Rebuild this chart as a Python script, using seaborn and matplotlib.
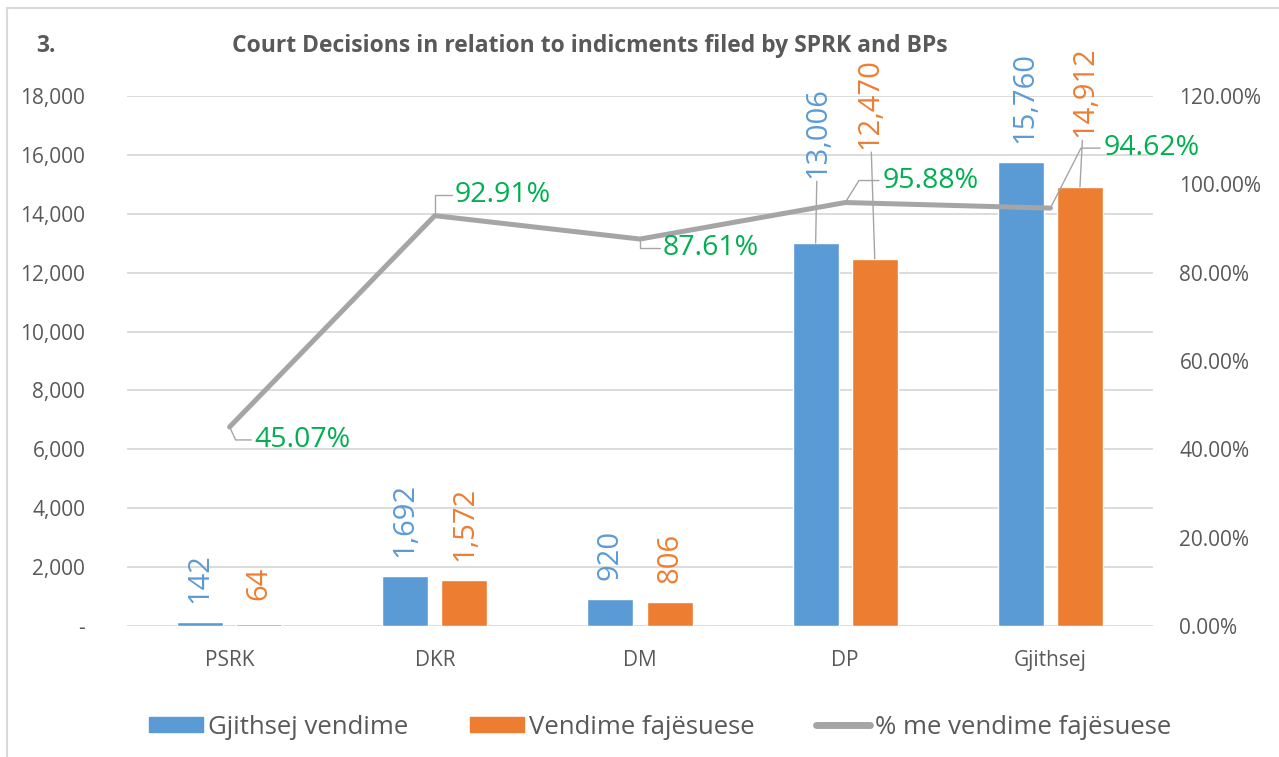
import numpy as np
import pandas as pd
import matplotlib.pyplot as plt
import seaborn as sns
from matplotlib.ticker import FuncFormatter, MultipleLocator
from matplotlib.lines import Line2D
from matplotlib.patches import Patch

# data
categories = ['PSRK', 'DKR', 'DM', 'DP', 'Gjithsej']
total_decisions = [142, 1692, 920, 13006, 15760]
guilty_decisions = [64, 1572, 806, 12470, 14912]
pct_guilty = [45.07, 92.91, 87.61, 95.88, 94.62]
series_names = ['Gjithsej vendime', 'Vendime fajësuese', '% me vendime fajësuese']
title = 'Court Decisions in relation to indicments filed by SPRK and BPs'

BLUE = '#5B9BD5'
ORANGE = '#ED7D31'
GRAY = '#A5A5A5'
GREEN = '#00B050'
TXT = '#595959'
GRID = '#D9D9D9'

sns.set_theme(style='white')
plt.rcParams['font.family'] = ['Open Sans', 'DejaVu Sans']

df = pd.DataFrame({
    'category': categories * 2,
    'value': total_decisions + guilty_decisions,
    'series': [series_names[0]] * len(categories) + [series_names[1]] * len(categories),
})

W, H = 1279, 757
fig = plt.figure(figsize=(W / 100, H / 100), dpi=100)
ax = fig.add_axes([127 / W, 1 - 626 / H, (1153 - 127) / W, 530 / H])

sns.barplot(data=df, x='category', y='value', hue='series', palette=[BLUE, ORANGE],
            saturation=1, width=0.576, gap=0.22, ax=ax, legend=False)
ax.set_xlim(-0.5, len(categories) - 0.5)
ax.set_ylim(0, 18000)
ax.yaxis.set_major_locator(MultipleLocator(2000))
ax.yaxis.set_major_formatter(FuncFormatter(lambda v, p: f'{v:,.0f}' if v else '-'))
ax.grid(axis='y', color=GRID, lw=1.3)
ax.set_axisbelow(True)
ax.set_xlabel('')
ax.set_ylabel('')
sns.despine(ax=ax, left=True, bottom=True)
ax.tick_params(axis='y', length=0, pad=30, labelsize=15, labelcolor=TXT)
ax.tick_params(axis='x', length=0, pad=17, labelsize=15, labelcolor=TXT)

# percentage line on the right axis
ax2 = ax.twinx()
sns.lineplot(x=np.arange(len(categories)), y=pct_guilty, ax=ax2, color=GRAY, lw=3.6)
ax2.set_ylim(0, 120)
ax2.yaxis.set_major_locator(MultipleLocator(20))
ax2.yaxis.set_major_formatter(FuncFormatter(lambda v, p: f'{v:.2f}%'))
ax2.grid(False)
for s in ax2.spines.values():
    s.set_visible(False)
ax2.tick_params(axis='y', length=0, pad=19, labelsize=15, labelcolor=TXT)

# bar value labels (some moved up with leader lines like in the original)
leader = dict(arrowstyle='-', color=GRAY, lw=1, shrinkA=0, shrinkB=0)
bar_offsets = [[(0, 19), (0, 19), (0, 19), (2, 65), (4, 19)],
               [(0, 24), (0, 19), (0, 19), (-5, 110), (5, 50)]]
for container, values, color, offs in zip(ax.containers, [total_decisions, guilty_decisions],
                                          [BLUE, ORANGE], bar_offsets):
    for bar, v, (dx, dy) in zip(container, values, offs):
        x = bar.get_x() + bar.get_width() / 2
        ax.annotate(f'{v:,}', (x, bar.get_height()), xytext=(dx, dy),
                    textcoords='offset pixels', rotation=90, ha='center', va='bottom',
                    fontsize=21, color=color,
                    arrowprops=leader if dy > 40 else None)

# percentage labels with elbow leaders
pct_offsets = [(25, -13), (20, 21), (23, -9), (37, 22), (53, 60)]
pct_angles = [-65, 90, -90, 58, 63]
for i, (p, (dx, dy), ang) in enumerate(zip(pct_guilty, pct_offsets, pct_angles)):
    ax2.annotate(f'{p:.2f}%', (i, p), xytext=(dx, dy), textcoords='offset pixels',
                 ha='left', va='center', fontsize=20.5, color=GREEN,
                 arrowprops=dict(arrowstyle='-', color=GRAY, lw=1, shrinkA=0, shrinkB=0,
                                 connectionstyle=f'angle,angleA=180,angleB={ang},rad=0'))

# titles
fig.text(36 / W, 1 - 46 / H, '3.', ha='left', va='center', fontsize=16.5,
         fontweight='bold', color=TXT)
fig.text(590 / W, 1 - 46 / H, title, ha='center', va='center', fontsize=16.5,
         fontweight='bold', color=TXT)

# legend
handles = [Patch(color=BLUE), Patch(color=ORANGE), Line2D([], [], color=GRAY, lw=5)]
fig.legend(handles, series_names, loc='center', bbox_to_anchor=(660 / W, 1 - 727 / H),
           ncol=3, frameon=False, fontsize=18.5, handlelength=2.1, handleheight=0.55,
           handletextpad=0.2, columnspacing=2.4, labelcolor=TXT)

# light frame of the chart area
fig.add_artist(Line2D([7 / W, 1], [1 - 8 / H, 1 - 8 / H], color=GRID, lw=1.5))
fig.add_artist(Line2D([7 / W, 7 / W], [0, 1 - 8 / H], color=GRID, lw=1.5))

fig.savefig('out.png', dpi=100)
